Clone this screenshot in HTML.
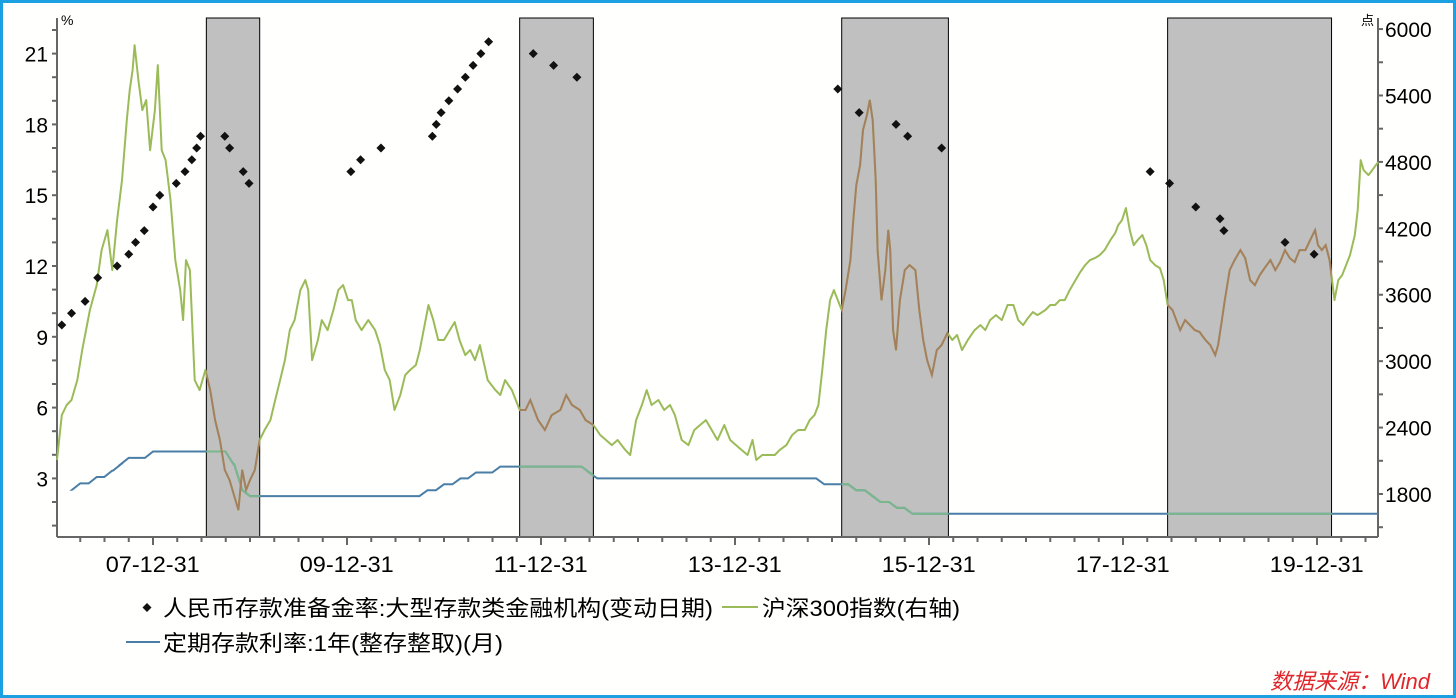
<!DOCTYPE html>
<html><head><meta charset="utf-8"><style>
html,body{margin:0;padding:0;background:#fff}
#wrap{position:relative;width:1456px;height:698px;box-sizing:border-box;border:3px solid #1ba1e2;background:#fffffd;overflow:hidden}
svg{position:absolute;left:-3px;top:-3px}
text{font-family:"Liberation Sans","Noto Sans CJK SC",sans-serif;fill:#000}
</style></head><body>
<div id="wrap">
<svg id="chart" width="1456" height="698"></svg>
</div>
<script>
// ===== data =====
const xTickLabels = ["07-12-31","09-12-31","11-12-31","13-12-31","15-12-31","17-12-31","19-12-31"];
const xTickDates = [2007.997,2009.997,2011.997,2013.997,2015.997,2017.997,2019.997];
const leftTicks = [3,6,9,12,15,18,21];
const rightTicks = [1800,2400,3000,3600,4200,4800,5400,6000];
const bandStart = [2008.55,2011.78,2015.10,2018.46];
const bandEnd = [2009.10,2012.54,2016.20,2020.15];
const rrrDates = [2007.06,2007.16,2007.30,2007.43,2007.63,2007.75,2007.82,2007.91,2008.00,2008.07,2008.24,2008.33,2008.40,2008.45,2008.49,2008.74,2008.79,2008.93,2008.99,2010.04,2010.14,2010.35,2010.88,2010.92,2010.97,2011.05,2011.14,2011.22,2011.30,2011.38,2011.46,2011.92,2012.13,2012.37,2015.06,2015.28,2015.66,2015.78,2016.13,2018.28,2018.48,2018.75,2019.00,2019.04,2019.67,2019.97];
const rrrValues = [9.5,10,10.5,11.5,12,12.5,13,13.5,14.5,15,15.5,16,16.5,17,17.5,17.5,17,16,15.5,16,16.5,17,17.5,18,18.5,19,19.5,20,20.5,21,21.5,21,20.5,20,19.5,18.5,18,17.5,17,16,15.5,14.5,14,13.5,13,12.5];
const depDates = [2007.17,2007.25,2007.42,2007.58,2007.67,2007.75,2008.00,2008.83,2008.92,2009.00,2010.83,2011.00,2011.17,2011.33,2011.58,2012.50,2012.58,2014.92,2015.25,2015.42,2015.50,2015.67,2015.83,2020.63];
const depValues = [2.52,2.79,3.06,3.33,3.60,3.87,4.14,3.60,2.52,2.25,2.50,2.75,3.00,3.25,3.50,3.25,3.00,2.75,2.50,2.25,2.00,1.75,1.50,1.50];
const csiDates = [2007.01,2007.06,2007.11,2007.16,2007.22,2007.27,2007.35,2007.42,2007.47,2007.53,2007.58,2007.63,2007.68,2007.73,2007.76,2007.79,2007.81,2007.85,2007.89,2007.93,2007.97,2008.02,2008.05,2008.09,2008.13,2008.18,2008.23,2008.28,2008.31,2008.34,2008.38,2008.43,2008.48,2008.54,2008.59,2008.64,2008.69,2008.74,2008.79,2008.85,2008.88,2008.92,2008.96,2009.00,2009.05,2009.10,2009.15,2009.21,2009.26,2009.31,2009.36,2009.41,2009.46,2009.52,2009.57,2009.60,2009.64,2009.70,2009.74,2009.80,2009.86,2009.91,2009.96,2010.01,2010.05,2010.09,2010.15,2010.22,2010.29,2010.34,2010.39,2010.44,2010.49,2010.55,2010.60,2010.65,2010.71,2010.75,2010.80,2010.84,2010.89,2010.94,2011.00,2011.06,2011.11,2011.16,2011.22,2011.27,2011.32,2011.37,2011.45,2011.53,2011.58,2011.63,2011.70,2011.78,2011.84,2011.89,2011.97,2012.04,2012.11,2012.20,2012.26,2012.32,2012.40,2012.46,2012.54,2012.61,2012.67,2012.73,2012.79,2012.87,2012.92,2012.98,2013.04,2013.09,2013.14,2013.21,2013.27,2013.33,2013.38,2013.45,2013.52,2013.58,2013.64,2013.70,2013.76,2013.82,2013.89,2013.95,2014.01,2014.07,2014.13,2014.18,2014.22,2014.28,2014.34,2014.41,2014.46,2014.53,2014.59,2014.65,2014.72,2014.77,2014.82,2014.86,2014.90,2014.94,2014.98,2015.02,2015.06,2015.10,2015.14,2015.19,2015.22,2015.25,2015.29,2015.32,2015.36,2015.39,2015.42,2015.45,2015.47,2015.51,2015.55,2015.58,2015.60,2015.63,2015.66,2015.70,2015.75,2015.80,2015.86,2015.90,2015.94,2015.98,2016.03,2016.08,2016.13,2016.19,2016.24,2016.29,2016.34,2016.40,2016.47,2016.53,2016.58,2016.63,2016.69,2016.75,2016.81,2016.87,2016.92,2016.97,2017.02,2017.07,2017.12,2017.20,2017.25,2017.30,2017.35,2017.40,2017.45,2017.51,2017.56,2017.61,2017.66,2017.71,2017.76,2017.81,2017.87,2017.92,2017.95,2017.99,2018.03,2018.07,2018.11,2018.15,2018.20,2018.24,2018.28,2018.33,2018.38,2018.42,2018.46,2018.51,2018.55,2018.59,2018.64,2018.69,2018.74,2018.79,2018.85,2018.90,2018.95,2018.98,2019.02,2019.05,2019.10,2019.15,2019.21,2019.26,2019.31,2019.36,2019.41,2019.46,2019.52,2019.57,2019.62,2019.67,2019.72,2019.77,2019.82,2019.88,2019.93,2019.98,2020.01,2020.05,2020.09,2020.13,2020.18,2020.22,2020.26,2020.30,2020.34,2020.39,2020.42,2020.45,2020.48,2020.53,2020.57,2020.63];
const csiValues = [2107,2513,2604,2649,2829,3100,3462,3687,4003,4184,3823,4274,4635,5177,5448,5629,5854,5538,5268,5358,4906,5268,5674,4906,4816,4455,3913,3642,3371,3913,3823,2829,2739,2920,2739,2468,2288,2017,1926,1746,1656,2017,1836,1926,2017,2288,2378,2468,2649,2829,3010,3281,3371,3642,3732,3642,3010,3191,3371,3281,3462,3642,3687,3552,3552,3371,3281,3371,3281,3145,2920,2829,2559,2694,2875,2920,2965,3100,3326,3507,3371,3191,3191,3281,3353,3191,3055,3100,3010,3145,2829,2739,2694,2829,2739,2559,2559,2649,2468,2378,2513,2559,2694,2604,2559,2468,2423,2333,2288,2242,2288,2197,2152,2468,2604,2739,2604,2649,2559,2604,2513,2288,2242,2378,2423,2468,2378,2288,2423,2288,2242,2197,2152,2288,2107,2152,2152,2152,2197,2242,2333,2378,2378,2468,2513,2604,2920,3281,3552,3642,3552,3462,3642,3913,4274,4590,4771,5087,5222,5358,5177,4635,4003,3552,3823,4184,4003,3281,3100,3552,3823,3868,3823,3462,3191,3010,2875,3100,3145,3254,3191,3236,3100,3191,3281,3326,3281,3371,3416,3371,3507,3507,3371,3326,3389,3443,3416,3462,3507,3507,3552,3552,3642,3732,3805,3868,3913,3931,3958,4003,4094,4157,4229,4274,4383,4184,4048,4094,4139,4048,3913,3868,3841,3732,3507,3462,3371,3281,3371,3326,3281,3263,3191,3145,3055,3145,3371,3552,3823,3913,4003,3931,3732,3687,3778,3841,3913,3823,3895,4003,3931,3895,4003,4003,4094,4184,4048,4003,4048,3913,3552,3732,3778,3868,3958,4139,4365,4816,4726,4681,4726,4798];

// ===== scales =====
const X0=57,X1=1378,Y0=18,Y1=537;
const xs = t => 153 + (t-2008)*97;
const yl = v => 549.2 - v*23.6;
const yr = v => 494 - (v-1800)*0.1107;
const svg=document.getElementById('chart');
const NS='http://www.w3.org/2000/svg';
function mk(tag,attrs,parent){const e=document.createElementNS(NS,tag);for(const k in attrs)e.setAttribute(k,attrs[k]);(parent||svg).appendChild(e);return e;}

// bands
const defs=mk('defs',{});
const cp=mk('clipPath',{id:'bandClip'},defs);
for(let i=0;i<bandStart.length;i++){
  const xa=xs(bandStart[i]),xb=xs(bandEnd[i]);
  const r=mk('rect',{x:xa,y:Y0,width:xb-xa,height:Y1-Y0,fill:'#c0c0c0',stroke:'#000','stroke-width':1});
  
  
  mk('rect',{x:xa,y:Y0,width:xb-xa,height:Y1-Y0},cp);
}
// axes
const ax=mk('g',{stroke:'#666','stroke-width':2,fill:'none'});


mk('line',{x1:X0,y1:Y0,x2:X0,y2:Y1},ax);
mk('line',{x1:X0,y1:Y1,x2:X1,y2:Y1},ax);
mk('line',{x1:X1,y1:Y0,x2:X1,y2:Y1},ax);
for(let v=1;v<=22;v++){mk('line',{x1:X0-5,y1:yl(v),x2:X0,y2:yl(v)},ax);}
for(let v=1500;v<=6000;v+=300){mk('line',{x1:X1,y1:yr(v),x2:X1+5,y2:yr(v)},ax);}
for(let t=2007.25;t<=2020.6;t+=0.25){const big=Math.abs((t-2007.997)%2)<0.01||Math.abs((t-2008)%2)<0.01;mk('line',{x1:xs(t),y1:Y1,x2:xs(t),y2:Y1+(big?8:5)},ax);}
leftTicks.forEach(v=>{const t=mk('text',{x:X0-9,y:yl(v)+8,'text-anchor':'end','font-size':21});t.textContent=v;
  });
rightTicks.forEach(v=>{const t=mk('text',{x:X1+7,y:yr(v)+8,'font-size':21});t.textContent=v;
  });
xTickLabels.forEach((s,i)=>{const t=mk('text',{x:xs(xTickDates[i])-47,y:572,'font-size':22,textLength:94,lengthAdjust:'spacingAndGlyphs'});t.textContent=s;
  });
let u=mk('text',{x:61,y:25,'font-size':14});u.textContent='%';

u=mk('text',{x:1361,y:25,'font-size':13});u.textContent='点';


// deposit rate path
let dp='M'+xs(depDates[0])+','+yl(depValues[0]);
for(let i=1;i<depDates.length;i++){
  if(depValues[i]!==depValues[i-1]) dp+=' L'+xs(depDates[i]-0.083)+','+yl(depValues[i-1]);
  dp+=' L'+xs(depDates[i])+','+yl(depValues[i]);
}
let p=mk('path',{d:dp,fill:'none',stroke:'#4a7ea6','stroke-width':2});

p=mk('path',{d:dp,fill:'none',stroke:'#7ab88c','stroke-width':2,'clip-path':'url(#bandClip)'});


// CSI300
let cpth='';
csiDates.forEach((d,i)=>{cpth+=(i?' L':'M')+xs(d).toFixed(1)+','+yr(csiValues[i]).toFixed(1);});
p=mk('path',{d:cpth,fill:'none',stroke:'#9bbb59','stroke-width':2,'stroke-linejoin':'round'});

p=mk('path',{d:cpth,fill:'none',stroke:'#a5805e','stroke-width':2,'clip-path':'url(#bandClip)'});


// RRR diamonds
rrrDates.forEach((d,i)=>{const x=xs(d),y=yl(rrrValues[i]);
  const m=mk('path',{d:`M${x},${y-4.5} L${x+4.5},${y} L${x},${y+4.5} L${x-4.5},${y} Z`,fill:'#111'});
  });

// legend
const lg=mk('g',{});

mk('path',{d:'M147,603 L151.5,607.5 L147,612 L142.5,607.5 Z',fill:'#111'},lg);
let t=mk('text',{x:163,y:616,'font-size':22,textLength:550,lengthAdjust:'spacingAndGlyphs'},lg);t.textContent='人民币存款准备金率:大型存款类金融机构(变动日期)';

mk('line',{x1:722,y1:607,x2:758,y2:607,stroke:'#9bbb59','stroke-width':2},lg);
t=mk('text',{x:762,y:616,'font-size':22,textLength:198,lengthAdjust:'spacingAndGlyphs'},lg);t.textContent='沪深300指数(右轴)';

mk('line',{x1:126,y1:642,x2:160,y2:642,stroke:'#4a7ea6','stroke-width':2},lg);
t=mk('text',{x:163,y:651,'font-size':22,textLength:340,lengthAdjust:'spacingAndGlyphs'},lg);t.textContent='定期存款利率:1年(整存整取)(月)';

t=mk('text',{x:1430,y:689,'font-size':22,'text-anchor':'end','font-style':'italic',style:'fill:#e0262b'});
t.textContent='数据来源：Wind';

</script>
</body></html>
